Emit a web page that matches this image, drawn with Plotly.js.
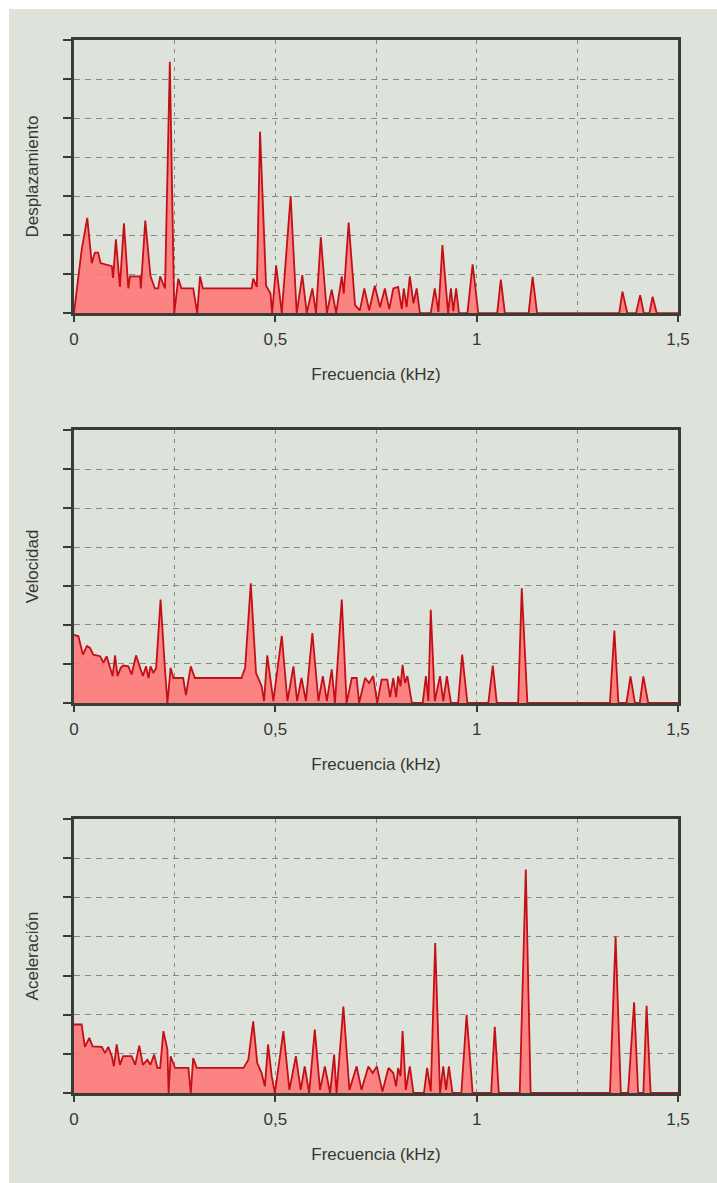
<!DOCTYPE html>
<html>
<head>
<meta charset="utf-8">
<script src="https://cdn.plot.ly/plotly-3.0.1.min.js"></script>
<style>
  html, body { margin: 0; padding: 0; background: #ffffff; }
  #chart { width: 717px; height: 1183px; }
</style>
</head>
<body>
<div id="chart"></div>
<script>
// ---- Data ----
var xTickVals = [0, 0.5, 1, 1.5];
var xTickText = ["0", "0,5", "1", "1,5"];
var xTitle = "Frecuencia (kHz)";
var yTitles = ["Desplazamiento", "Velocidad", "Aceleración"];

// Desplazamiento
var despF = [0, 0.019, 0.033, 0.044, 0.052, 0.060, 0.066, 0.094, 0.097, 0.104, 0.114, 0.124, 0.135, 0.139, 0.164, 0.166, 0.177, 0.190, 0.201, 0.209, 0.214, 0.226, 0.238, 0.249, 0.259, 0.267, 0.296, 0.306, 0.313, 0.320, 0.441, 0.445, 0.454, 0.462, 0.477, 0.488, 0.492, 0.502, 0.516, 0.538, 0.553, 0.567, 0.578, 0.592, 0.601, 0.613, 0.628, 0.640, 0.651, 0.665, 0.670, 0.682, 0.698, 0.710, 0.721, 0.733, 0.747, 0.760, 0.772, 0.783, 0.793, 0.805, 0.814, 0.819, 0.826, 0.834, 0.843, 0.851, 0.859, 0.886, 0.896, 0.905, 0.915, 0.929, 0.936, 0.942, 0.949, 0.956, 0.977, 0.990, 1.004, 1.051, 1.060, 1.070, 1.129, 1.139, 1.150, 1.354, 1.362, 1.374, 1.396, 1.406, 1.415, 1.429, 1.437, 1.447, 1.5];
var despV = [0, 1.62, 2.44, 1.28, 1.55, 1.55, 1.28, 1.2, 0.9, 1.89, 0.67, 2.3, 0.63, 0.94, 0.94, 0.63, 2.37, 0.94, 0.63, 0.63, 0.94, 0.63, 6.44, 0, 0.88, 0.63, 0.63, 0, 0.94, 0.63, 0.63, 0.88, 0.67, 4.65, 0.7, 0.5, 0, 1.22, 0, 3.0, 0, 0.97, 0, 0.63, 0, 1.94, 0, 0.6, 0, 0.94, 0.5, 2.32, 0.2, 0.07, 0.63, 0.07, 0.7, 0.15, 0.63, 0.1, 0.63, 0.67, 0.1, 0.63, 0.15, 0.94, 0.25, 0.63, 0, 0, 0.63, 0.03, 1.74, 0, 0.63, 0.05, 0.63, 0, 0, 1.25, 0, 0, 0.86, 0, 0, 0.93, 0, 0, 0.55, 0, 0, 0.46, 0, 0, 0.42, 0, 0];

// Velocidad
var veloF = [0, 0.011, 0.022, 0.032, 0.040, 0.048, 0.065, 0.073, 0.081, 0.089, 0.096, 0.102, 0.108, 0.116, 0.122, 0.135, 0.143, 0.154, 0.164, 0.171, 0.179, 0.185, 0.190, 0.197, 0.204, 0.215, 0.226, 0.232, 0.240, 0.247, 0.271, 0.278, 0.290, 0.300, 0.416, 0.425, 0.439, 0.452, 0.466, 0.472, 0.480, 0.488, 0.495, 0.516, 0.530, 0.545, 0.554, 0.565, 0.576, 0.592, 0.607, 0.618, 0.628, 0.640, 0.648, 0.665, 0.677, 0.690, 0.702, 0.708, 0.723, 0.733, 0.743, 0.753, 0.764, 0.778, 0.785, 0.793, 0.800, 0.805, 0.811, 0.816, 0.822, 0.828, 0.839, 0.866, 0.874, 0.880, 0.886, 0.896, 0.909, 0.917, 0.926, 0.936, 0.954, 0.964, 0.977, 1.029, 1.040, 1.050, 1.103, 1.112, 1.126, 1.331, 1.342, 1.352, 1.372, 1.382, 1.393, 1.405, 1.414, 1.426, 1.5];
var veloV = [1.75, 1.71, 1.24, 1.46, 1.41, 1.24, 1.2, 1.03, 1.2, 0.9, 0.69, 1.22, 0.69, 0.9, 0.96, 0.94, 0.73, 1.22, 0.9, 0.69, 0.94, 0.64, 0.94, 0.77, 0.9, 2.65, 0.86, 0, 0.9, 0.64, 0.64, 0.2, 0.94, 0.64, 0.64, 0.9, 3.07, 0.77, 0.43, 0.05, 1.22, 0.6, 0.05, 1.72, 0.05, 0.94, 0.05, 0.64, 0.05, 1.79, 0.05, 0.69, 0.05, 0.86, 0, 2.65, 0, 0.64, 0.64, 0, 0.64, 0.51, 0.69, 0, 0.6, 0.6, 0.15, 0.64, 0.15, 0.69, 0.43, 0.98, 0.51, 0.69, 0, 0, 0.69, 0.05, 2.39, 0.05, 0.69, 0.05, 0.69, 0, 0, 1.24, 0, 0, 0.96, 0, 0, 2.94, 0, 0, 1.86, 0, 0, 0.68, 0, 0, 0.68, 0, 0];

// Aceleración
var acelF = [0, 0.019, 0.027, 0.038, 0.046, 0.056, 0.069, 0.077, 0.085, 0.094, 0.099, 0.106, 0.114, 0.122, 0.143, 0.152, 0.162, 0.171, 0.182, 0.190, 0.199, 0.207, 0.214, 0.222, 0.232, 0.235, 0.240, 0.251, 0.284, 0.290, 0.296, 0.305, 0.421, 0.433, 0.445, 0.455, 0.466, 0.474, 0.482, 0.491, 0.499, 0.520, 0.535, 0.551, 0.563, 0.573, 0.584, 0.598, 0.611, 0.623, 0.636, 0.646, 0.652, 0.669, 0.684, 0.702, 0.714, 0.731, 0.742, 0.752, 0.766, 0.781, 0.793, 0.800, 0.805, 0.811, 0.816, 0.824, 0.834, 0.843, 0.869, 0.877, 0.886, 0.897, 0.909, 0.917, 0.924, 0.931, 0.940, 0.962, 0.975, 0.990, 1.036, 1.045, 1.055, 1.107, 1.122, 1.134, 1.331, 1.345, 1.358, 1.376, 1.391, 1.401, 1.414, 1.422, 1.432, 1.5];
var acelV = [1.75, 1.75, 1.18, 1.41, 1.19, 1.19, 1.18, 1.02, 1.18, 0.94, 0.68, 1.24, 0.72, 0.94, 0.94, 0.72, 1.21, 0.72, 0.85, 0.72, 0.98, 0.64, 0.64, 1.58, 1.11, 0, 0.94, 0.64, 0.64, 0, 0.89, 0.64, 0.64, 0.85, 1.83, 0.77, 0.51, 0.17, 1.24, 0.43, 0, 1.58, 0.08, 0.94, 0.08, 0.68, 0, 1.62, 0.08, 0.68, 0, 0.98, 0, 2.21, 0.08, 0.68, 0.08, 0.68, 0.51, 0.68, 0.04, 0.64, 0.51, 0.17, 0.64, 0.43, 1.58, 0.08, 0.68, 0, 0, 0.64, 0.04, 3.83, 0, 0.68, 0.08, 0.68, 0, 0, 2.0, 0, 0, 1.69, 0, 0, 5.71, 0, 0, 4.0, 0, 0, 2.32, 0, 0, 2.23, 0, 0];

// ---- Styling ----
var lineColor = "#c40f17";
var fillColor = "rgba(255,118,118,0.88)";
var axisColor = "#373d37";
var gridColor = "#858a85";
var textColor = "#363636";
var fontFamily = "'Liberation Sans', Arial, sans-serif";

function trace(x, y, xa, ya) {
  return {
    x: x, y: y, xaxis: xa, yaxis: ya,
    type: "scatter", mode: "lines",
    line: { color: lineColor, width: 1.8 },
    fill: "tozeroy", fillcolor: fillColor,
    hoverinfo: "skip", showlegend: false
  };
}

var data = [
  trace(despF, despV, "x", "y"),
  trace(veloF, veloV, "x2", "y2"),
  trace(acelF, acelV, "x3", "y3")
];

function xAxis(anchor) {
  return {
    anchor: anchor, domain: [0, 1], range: [0, 1.5],
    tickvals: xTickVals, ticktext: xTickText,
    ticks: "outside", ticklen: 6, tickwidth: 2, tickcolor: axisColor,
    ticklabelstandoff: 3,
    showline: true, linecolor: axisColor, linewidth: 2.8, mirror: true,
    showgrid: true, gridcolor: gridColor, gridwidth: 1, griddash: "4px,5px",
    minor: { dtick: 0.25, tick0: 0, showgrid: true, gridcolor: gridColor, gridwidth: 1, griddash: "4px,5px", ticks: "" },
    zeroline: false, fixedrange: true,
    tickfont: { family: fontFamily, size: 17, color: textColor },
    title: { text: xTitle, font: { family: fontFamily, size: 17, color: textColor }, standoff: 20 }
  };
}

function yAxis(anchor, domain, title) {
  return {
    anchor: anchor, domain: domain, range: [0, 7],
    tickvals: [0, 1, 2, 3, 4, 5, 6, 7], showticklabels: false,
    ticks: "outside", ticklen: 8, tickwidth: 2, tickcolor: axisColor,
    showline: true, linecolor: axisColor, linewidth: 2.8, mirror: true,
    showgrid: true, gridcolor: gridColor, gridwidth: 1, griddash: "6px,5px",
    zeroline: false, fixedrange: true,
    title: { text: title, font: { family: fontFamily, size: 17, color: textColor }, standoff: 21 }
  };
}

var layout = {
  width: 717, height: 1183,
  margin: { l: 74, r: 39, t: 40, b: 90 },
  paper_bgcolor: "#ffffff",
  plot_bgcolor: "rgba(0,0,0,0)",
  font: { family: fontFamily, color: textColor },
  xaxis: xAxis("y"),
  yaxis: yAxis("x", [0.7407, 1], yTitles[0]),
  xaxis2: xAxis("y2"),
  yaxis2: yAxis("x2", [0.3704, 0.6296], yTitles[1]),
  xaxis3: xAxis("y3"),
  yaxis3: yAxis("x3", [0, 0.2602], yTitles[2]),
  shapes: [{
    type: "rect", xref: "paper", yref: "paper", layer: "below",
    x0: -0.1076, x1: 1.08, y0: -0.1, y1: 1.0294,
    fillcolor: "#dde3da", line: { width: 0 }
  }]
};

Plotly.newPlot("chart", data, layout, { displayModeBar: false, staticPlot: true });
</script>
</body>
</html>
